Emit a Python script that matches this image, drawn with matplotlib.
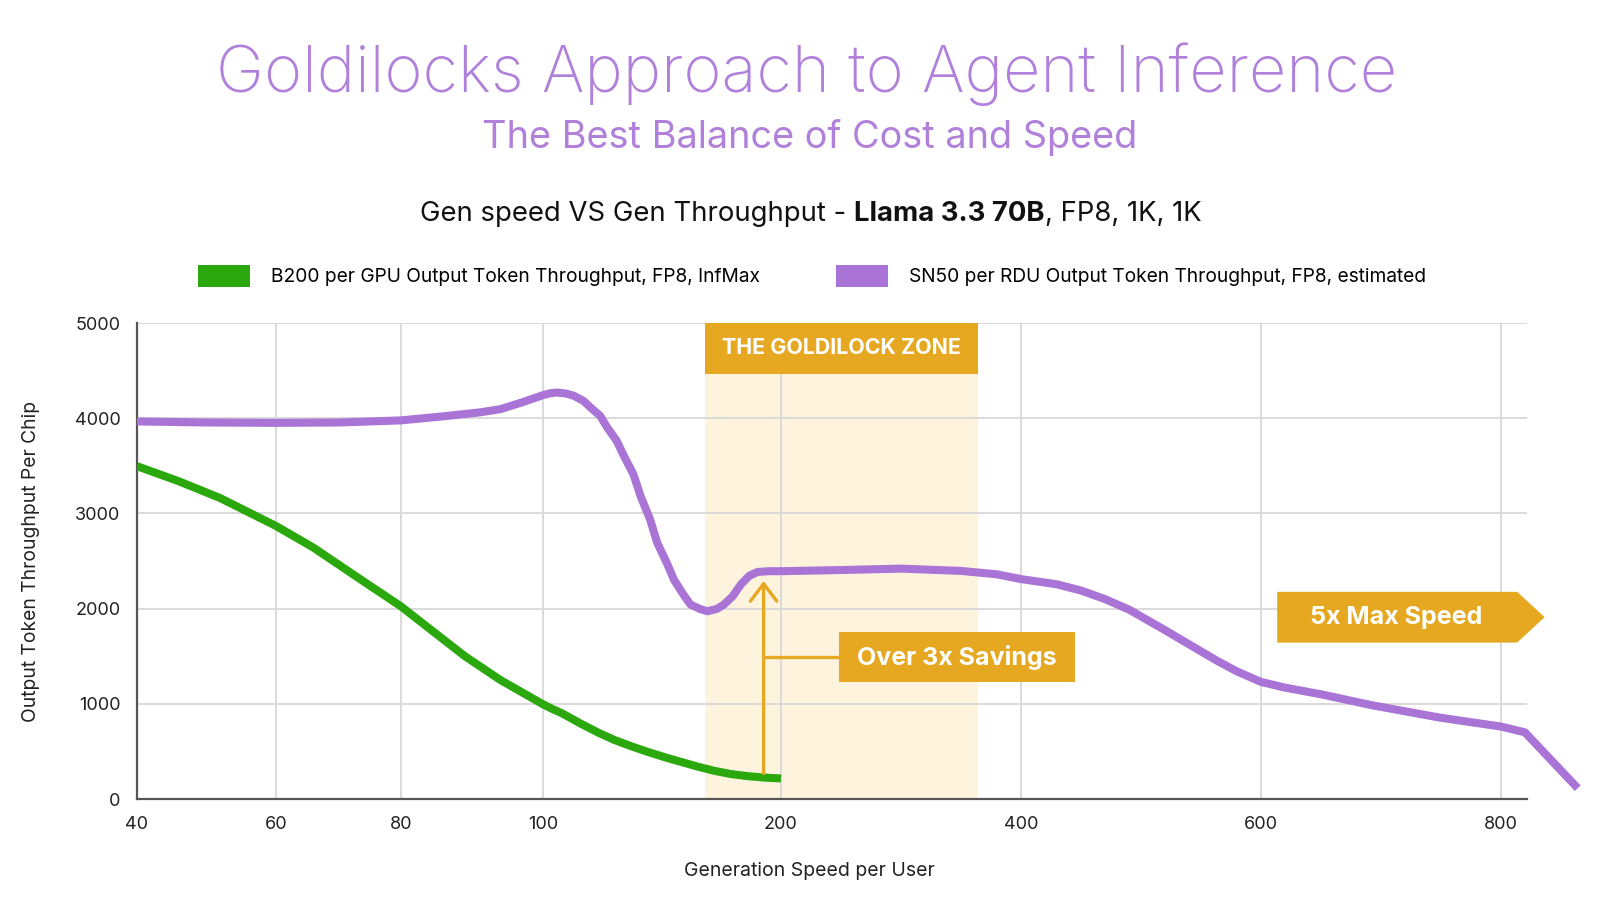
import matplotlib
matplotlib.use("Agg")
import matplotlib.pyplot as plt
from matplotlib.patches import Rectangle, Polygon, Patch
import numpy as np

plt.rcParams['font.family'] = ['Inter', 'DejaVu Sans']

# ---- data ----
x_ticks = [40, 60, 80, 100, 200, 400, 600, 800]
y_ticks = [0, 1000, 2000, 3000, 4000, 5000]

b200_speed = [40, 46, 52, 60, 66, 73, 80, 84, 89, 94, 100, 104, 108, 116, 123, 130, 137, 144,
              151, 158, 165, 172, 179, 186, 193, 200]
b200_tput = [3496, 3338, 3160, 2868, 2640, 2330, 2023, 1790, 1500, 1250, 995, 945, 900, 790, 700,
             620, 555, 495, 440, 390, 340, 296, 262, 240, 225, 216]

sn50_speed = [40, 50, 60, 70, 80, 86, 91, 94, 97, 100, 103, 106, 110, 113, 117, 120, 124, 127,
              131, 134, 138, 141, 145, 148, 152, 155, 159, 162, 166, 169, 173, 176, 179.7, 181.5,
              183.2, 186.7, 190.2, 195, 200, 250, 300, 350, 380, 400, 430, 450, 470, 490, 520,
              540, 563, 580, 600, 620, 650, 692, 749, 800, 820, 864]
sn50_tput = [3966, 3955, 3951, 3955, 3977, 4020, 4060, 4095, 4165, 4242, 4262, 4270, 4258, 4235,
             4182, 4112, 4025, 3902, 3761, 3604, 3411, 3182, 2937, 2691, 2481, 2305, 2147, 2042,
             1996, 1972, 1996, 2042, 2130, 2195, 2255, 2345, 2385, 2393, 2393, 2405, 2420, 2396,
             2360, 2310, 2255, 2190, 2100, 1990, 1774, 1625, 1455, 1340, 1230, 1170, 1100, 986,
             855, 761, 700, 113]

zone_range = (168, 364)

# ---- colours ----
PURPLE = '#a974d6'
TITLE_PURPLE = '#b080da'
GREEN = '#2ba80d'
GOLD = '#e5a820'
ZONE = '#fef4de'

# piecewise x axis (uneven spacing between the tick values)
tick_pos = np.array([0, 139, 264, 406, 644, 884, 1124, 1364], float)
tick_val = np.array(x_ticks, float)
hi_slope = (tick_pos[-1] - tick_pos[-2]) / (tick_val[-1] - tick_val[-2])
lo_slope = (tick_pos[1] - tick_pos[0]) / (tick_val[1] - tick_val[0])


def fwd(v):
    v = np.asarray(v, float)
    out = np.interp(v, tick_val, tick_pos)
    out = np.where(v > tick_val[-1], tick_pos[-1] + (v - tick_val[-1]) * hi_slope, out)
    out = np.where(v < tick_val[0], tick_pos[0] + (v - tick_val[0]) * lo_slope, out)
    return out


def inv(p):
    p = np.asarray(p, float)
    out = np.interp(p, tick_pos, tick_val)
    out = np.where(p > tick_pos[-1], tick_val[-1] + (p - tick_pos[-1]) / hi_slope, out)
    out = np.where(p < tick_pos[0], tick_val[0] + (p - tick_pos[0]) / lo_slope, out)
    return out


def mid(a, b):
    # midpoint in screen terms on the warped axis
    return float(inv((fwd(a) + fwd(b)) / 2))


fig = plt.figure(figsize=(16, 9), dpi=100)
ax = fig.add_axes([137 / 1600, 101 / 900, 1390 / 1600, 476 / 900])
ax.set_xscale('function', functions=(fwd, inv))
ax.set_xlim(40, 821.7)
ax.set_ylim(0, 5000)

ax.set_xticks(x_ticks)
ax.set_xticklabels([str(v) for v in x_ticks])
ax.set_yticks(y_ticks)
ax.tick_params(axis='both', length=0, labelsize=13, colors='#222222')
ax.tick_params(axis='x', pad=12)
ax.tick_params(axis='y', pad=12)
ax.minorticks_off()

ax.set_axisbelow(True)
ax.grid(True, color='#dadada', lw=1.4)
for s in ['top', 'right']:
    ax.spines[s].set_visible(False)
for s in ['left', 'bottom']:
    ax.spines[s].set_color('#555555')
    ax.spines[s].set_linewidth(1.6)

# goldilock zone
ax.add_patch(Rectangle((zone_range[0], 0), zone_range[1] - zone_range[0], 5000,
                       facecolor=ZONE, edgecolor='none', zorder=0.2))
ax.add_patch(Rectangle((zone_range[0], 4463), zone_range[1] - zone_range[0], 537,
                       facecolor=GOLD, edgecolor='none', zorder=2))
ax.text(mid(*zone_range), 4735, 'THE GOLDILOCK ZONE', color='white', fontsize=15.4,
        fontweight='bold', ha='center', va='center', zorder=3)

# lines
ax.plot(b200_speed, b200_tput, color=GREEN, lw=5.8, solid_capstyle='butt',
        solid_joinstyle='round', zorder=4)
ax.plot(sn50_speed, sn50_tput, color=PURPLE, lw=5.8, solid_capstyle='butt',
        solid_joinstyle='round', zorder=4, clip_on=False)

# savings arrow + label
ax.annotate('', xy=(192.7, 2290), xytext=(192.7, 268),
            arrowprops=dict(arrowstyle='->,head_length=1.25,head_width=0.95', color=GOLD, lw=2.4,
                            shrinkA=0, shrinkB=0), zorder=5)
ax.plot([192.7, 248], [1490, 1490], color=GOLD, lw=2.4, zorder=5)
ax.add_patch(Rectangle((248, 1228), 445 - 248, 1754 - 1228, facecolor=GOLD, edgecolor='none', zorder=5))
ax.text(mid(248, 445), 1491, 'Over 3x Savings', color='white', fontsize=18,
        fontweight='bold', ha='center', va='center', zorder=6)

# max speed arrow box
ax.add_patch(Polygon([(613.5, 1643), (813.5, 1643), (836.4, 1910), (813.5, 2176), (613.5, 2176)],
                     closed=True, facecolor=GOLD, edgecolor='none', zorder=5, clip_on=False))
ax.text(713, 1910, '5x Max Speed', color='white', fontsize=18, fontweight='bold',
        ha='center', va='center', zorder=6)

ax.set_xlabel('Generation Speed per User', fontsize=14, color='#222222')
ax.xaxis.set_label_coords(0.484, -0.132)
ax.set_ylabel('Output Token Throughput Per Chip', fontsize=13.9, color='#222222')
ax.yaxis.set_label_coords(-0.07, 0.5)

# titles
fig.text(807 / 1600, 1 - 74 / 900, 'Goldilocks Approach to Agent Inference', color=TITLE_PURPLE,
         fontsize=46.7, fontweight='light', ha='center', va='center')
fig.text(810 / 1600, 1 - 138 / 900, 'The Best Balance of Cost and Speed', color=TITLE_PURPLE,
         fontsize=27.3, ha='center', va='center')

renderer = fig.canvas.get_renderer()
parts = [('Gen speed VS Gen Throughput - ', 'normal'), ('Llama 3.3 70B', 'bold'), (', FP8, 1K, 1K', 'normal')]
pieces = []
for s, w in parts:
    t = fig.text(0, 1 - 221 / 900, s, fontsize=19.8, fontweight=w, color='#111111', va='baseline')
    pieces.append(t)
widths = [t.get_window_extent(renderer).width for t in pieces]
x0 = 811 - sum(widths) / 2
for t, w in zip(pieces, widths):
    t.set_x(x0 / 1600)
    x0 += w

# legend
handles = [Patch(facecolor=GREEN, edgecolor='none'), Patch(facecolor=PURPLE, edgecolor='none')]
labels = ['B200 per GPU Output Token Throughput, FP8, InfMax',
          'SN50 per RDU Output Token Throughput, FP8, estimated']
fig.legend(handles, labels, loc='center', bbox_to_anchor=(812 / 1600, 1 - 276 / 900), ncol=2,
           frameon=False, fontsize=13.8, handlelength=2.7, handleheight=1.4, handletextpad=1.1,
           columnspacing=4.0)

fig.savefig('out.png', dpi=100)
